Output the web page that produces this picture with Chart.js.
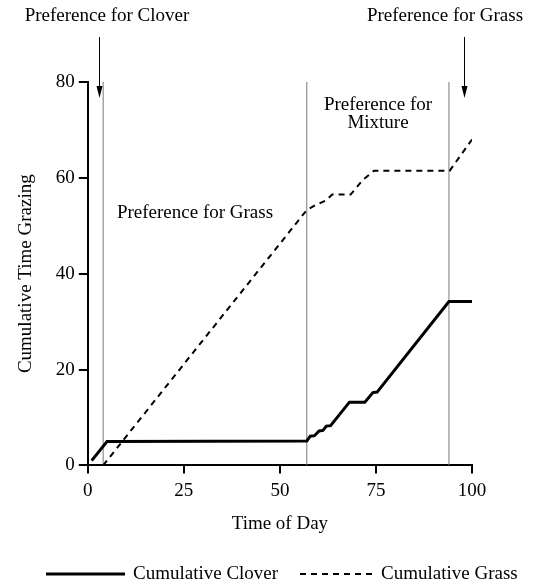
<!DOCTYPE html>
<html>
<head>
<meta charset="utf-8">
<script src="https://cdn.jsdelivr.net/npm/chart.js@4"></script>
<style>
  html, body { margin: 0; padding: 0; background: #fff; }
  #wrap { width: 533px; height: 586px; position: relative; }
</style>
</head>
<body>
<div id="wrap"><canvas id="chart"></canvas></div>
<script>
// ── Data ────────────────────────────────────────────────────────────────────
const cloverTime = [1, 5, 57, 57.9, 59, 60.2, 61.2, 62.1, 63.2, 68.1, 72.1, 74.2, 75.3, 94, 100];
const cloverValues = [1, 5, 5.1, 6.1, 6.2, 7.2, 7.3, 8.2, 8.3, 13.2, 13.2, 15.2, 15.3, 34.2, 34.2];

const grassTime = [4, 57, 59, 62, 63.6, 68.4, 71.5, 74.5, 94.2, 100];
const grassValues = [0, 53.3, 54.2, 55.3, 56.5, 56.5, 59.5, 61.5, 61.5, 68];

// period boundaries (thin grey verticals) and top arrows
const boundaryTimes = [4, 57, 94];
const arrowTimes = [2.8, 97.9];
const arrowLabels = ["Preference for Clover", "Preference for Grass"];

const xTicks = [0, 25, 50, 75, 100];
const yTicks = [0, 20, 40, 60, 80];

const FONT = "'Liberation Serif', 'Times New Roman', serif";

const toPoints = (xs, ys) => xs.map((x, i) => ({ x, y: ys[i] }));

const boundarySets = boundaryTimes.map((t) => ({
  label: "boundary",
  data: [{ x: t, y: yTicks[0] }, { x: t, y: yTicks[yTicks.length - 1] }],
  borderColor: "#7a7a7a",
  borderWidth: 1,
  pointRadius: 0,
  fill: false,
}));

// ── Annotations: arrows, period labels, legend ──────────────────────────────
const annotations = {
  id: "annotations",
  afterDraw(chart) {
    const { ctx } = chart;
    const xs = chart.scales.x;
    ctx.save();
    ctx.fillStyle = "#000";
    ctx.strokeStyle = "#000";
    ctx.font = `19px ${FONT}`;
    ctx.textAlign = "center";
    ctx.textBaseline = "middle";

    // top labels with arrows
    arrowTimes.forEach((t) => {
      const px = Math.round(xs.getPixelForValue(t)) + 0.5;
      ctx.lineWidth = 1;
      ctx.beginPath();
      ctx.moveTo(px, 37);
      ctx.lineTo(px, 90);
      ctx.stroke();
      ctx.beginPath();
      ctx.moveTo(px - 3, 86);
      ctx.lineTo(px + 3, 86);
      ctx.lineTo(px, 98);
      ctx.closePath();
      ctx.fill();
    });
    ctx.fillText(arrowLabels[0], 107, 16);
    ctx.fillText(arrowLabels[1], 445, 16);

    // period labels
    ctx.fillText("Preference for Grass", 195, 213);
    ctx.fillText("Preference for", 378, 105);
    ctx.fillText("Mixture", 378, 123);

    // legend
    const ly = 574;
    const items = [
      { ds: chart.data.datasets[0], x0: 46, x1: 125, tx: 133 },
      { ds: chart.data.datasets[1], x0: 300, x1: 374, tx: 381 },
    ];
    ctx.textAlign = "left";
    items.forEach((it) => {
      ctx.lineWidth = it.ds.borderWidth;
      ctx.setLineDash(it.ds.borderDash || []);
      ctx.beginPath();
      ctx.moveTo(it.x0, ly);
      ctx.lineTo(it.x1, ly);
      ctx.stroke();
      ctx.setLineDash([]);
      ctx.fillText(it.ds.label, it.tx, ly);
    });
    ctx.restore();
  },
};

new Chart(document.getElementById("chart"), {
  type: "line",
  data: {
    datasets: [
      {
        label: "Cumulative Clover",
        data: toPoints(cloverTime, cloverValues),
        borderColor: "#000",
        borderWidth: 3,
        pointRadius: 0,
        tension: 0,
        fill: false,
      },
      {
        label: "Cumulative Grass",
        data: toPoints(grassTime, grassValues),
        borderColor: "#000",
        borderWidth: 2,
        borderDash: [6, 5],
        pointRadius: 0,
        tension: 0,
        fill: false,
      },
      ...boundarySets,
    ],
  },
  options: {
    responsive: true,
    maintainAspectRatio: false,
    animation: false,
    layout: { padding: { top: 82, right: 61, bottom: 51, left: 15 } },
    plugins: {
      legend: { display: false },
      tooltip: { enabled: false },
    },
    scales: {
      x: {
        type: "linear",
        min: 0,
        max: 100,
        afterBuildTicks: (s) => { s.ticks = xTicks.map((v) => ({ value: v })); },
        ticks: { color: "#000", font: { family: FONT, size: 19 }, padding: 6, maxRotation: 0 },
        grid: { drawOnChartArea: false, drawTicks: true, tickLength: 8, color: "#000", lineWidth: 2 },
        border: { display: true, color: "#000", width: 2 },
        title: { display: true, text: "Time of Day", color: "#000", font: { family: FONT, size: 19 }, padding: { top: 4, bottom: 0 } },
      },
      y: {
        type: "linear",
        min: 0,
        max: 80,
        afterBuildTicks: (s) => { s.ticks = yTicks.map((v) => ({ value: v })); },
        ticks: { color: "#000", font: { family: FONT, size: 19 }, padding: 4 },
        grid: { drawOnChartArea: false, drawTicks: true, tickLength: 9, color: "#000", lineWidth: 2 },
        border: { display: true, color: "#000", width: 2 },
        title: { display: true, text: "Cumulative Time Grazing", color: "#000", font: { family: FONT, size: 19 }, padding: { top: 0, bottom: 14 } },
      },
    },
  },
  plugins: [annotations],
});
</script>
</body>
</html>
